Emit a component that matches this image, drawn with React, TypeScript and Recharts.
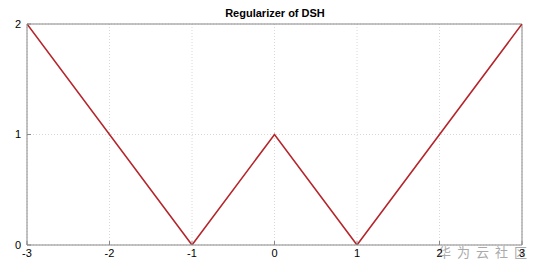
import { LineChart, Line, XAxis, YAxis, CartesianGrid, ReferenceLine } from 'recharts'

// Data
const xValues = [-3, -1, 0, 1, 3]
const yValues = [2, 0, 1, 0, 2]
const xTicks = [-3, -2, -1, 0, 1, 2, 3]
const yTicks = [0, 1, 2]

const TITLE = 'Regularizer of DSH'
const WATERMARK = '华为云社区'

const data = xValues.map((x, i) => ({ x, y: yValues[i] }))

const tickStyle = { fill: '#000', fontSize: 11, fontFamily: 'Liberation Sans, Arial, sans-serif' }

export default function App() {
  return (
    <div style={{ position: 'absolute', left: 0, top: 0, width: 539, height: 272, background: '#fff' }}>
      <LineChart width={539} height={272} data={data} margin={{ top: 24, right: 17, bottom: 0, left: 0 }}>
        <CartesianGrid stroke="#d8d8d8" strokeDasharray="1 2" />
        <XAxis
          dataKey="x"
          type="number"
          domain={[-3, 3]}
          ticks={xTicks}
          height={27}
          tick={tickStyle}
          tickSize={-4}
          tickMargin={8}
          stroke="#888"
          allowDataOverflow
        />
        <YAxis
          type="number"
          domain={[0, 2]}
          ticks={yTicks}
          width={27}
          tick={tickStyle}
          tickSize={-4}
          tickMargin={10}
          stroke="#888"
          allowDataOverflow
        />
        <ReferenceLine y={2} stroke="#888" />
        <ReferenceLine x={3} stroke="#888" />
        <Line
          dataKey="y"
          type="linear"
          stroke="#b5252b"
          strokeWidth={1.6}
          dot={false}
          isAnimationActive={false}
        />
        <text
          x={275}
          y={17}
          textAnchor="middle"
          fontSize={11}
          fontWeight="bold"
          fontFamily="Liberation Sans, Arial, sans-serif"
          fill="#000"
        >
          {TITLE}
        </text>
        <text
          x={438}
          y={257}
          fontSize={13}
          letterSpacing={6}
          fontFamily="Noto Sans CJK SC, sans-serif"
          fill="#aaa"
        >
          {WATERMARK}
        </text>
      </LineChart>
    </div>
  )
}
